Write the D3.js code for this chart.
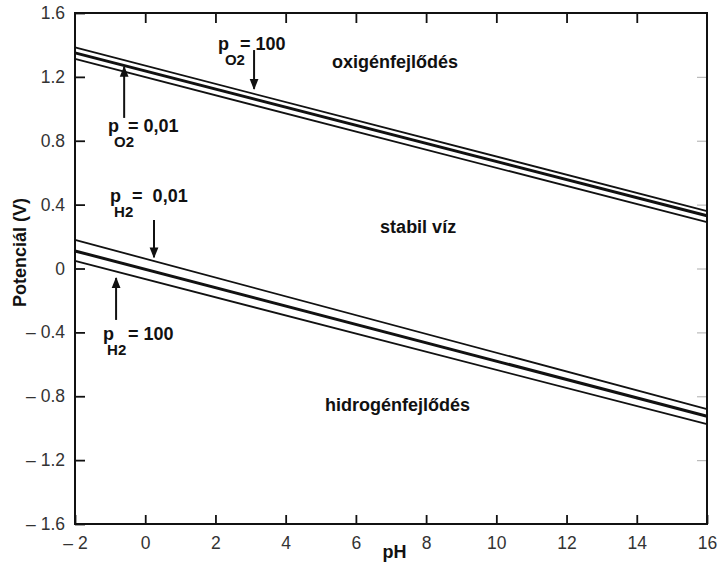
<!DOCTYPE html>
<html>
<head>
<meta charset="utf-8">
<script src="https://cdn.jsdelivr.net/npm/d3@7"></script>
<style>
  body { margin: 0; background: #fff; }
  svg { display: block; font-family: "Liberation Sans", Arial, Helvetica, sans-serif; }
  .tick text { fill: #333; font-size: 17.5px; }
  .note { font-weight: bold; font-size: 18px; fill: #111; }
</style>
</head>
<body>
<div class="visHolder"></div>
<script>
const w = 718, h = 565;
const margin = {top: 13, right: 11, bottom: 41, left: 75};

// pH range of the lines
const phEnds = [-2, 16];
// O2/H2O lines, pO2 = 100, 1, 0,01 (potential at pH -2 and pH 16)
const o2Left = [1.384, 1.350, 1.312];
const o2Right = [0.36, 0.33, 0.29];
// H2O/H2 lines, pH2 = 0,01, 1, 100
const h2Left = [0.179, 0.110, 0.047];
const h2Right = [-0.88, -0.925, -0.975];
const lineWidths = [1.8, 3, 1.8];

const xTicks = [-2, 0, 2, 4, 6, 8, 10, 12, 14, 16];
const yTicks = [-1.6, -1.2, -0.8, -0.4, 0, 0.4, 0.8, 1.2, 1.6];

const svg = d3.select('.visHolder')
  .append('svg')
  .attr('width', w)
  .attr('height', h);

const x = d3.scaleLinear().domain([-2, 16]).range([margin.left, w - margin.right]);
const y = d3.scaleLinear().domain([-1.6, 1.6]).range([h - margin.bottom, margin.top]);

const fmt = d => d < 0 ? '\u2013 ' + Math.abs(d).toFixed(Number.isInteger(d) ? 0 : 1)
                       : (d === 0 ? '0' : (Number.isInteger(d) ? d : d.toFixed(1)));

// axes with inward ticks
const axBottom = svg.append('g')
  .attr('transform', `translate(0,${h - margin.bottom})`)
  .call(d3.axisBottom(x).tickValues(xTicks).tickSizeInner(-9).tickSizeOuter(0).tickPadding(13).tickFormat(fmt));
const axLeft = svg.append('g')
  .attr('transform', `translate(${margin.left},0)`)
  .call(d3.axisLeft(y).tickValues(yTicks).tickSizeInner(-10).tickSizeOuter(0).tickPadding(10).tickFormat(fmt));
const axTop = svg.append('g')
  .attr('transform', `translate(0,${margin.top})`)
  .call(d3.axisTop(x).tickValues(xTicks.slice(1, -1)).tickSizeInner(-10).tickSizeOuter(0).tickFormat(''));
const axRight = svg.append('g')
  .attr('transform', `translate(${w - margin.right},0)`)
  .call(d3.axisRight(y).tickValues(yTicks.slice(1, -1)).tickSizeInner(-10).tickSizeOuter(0).tickFormat(''));

[axBottom, axLeft, axTop, axRight].forEach(g => {
  g.select('.domain').remove();
  g.selectAll('.tick line').attr('stroke', '#111').attr('stroke-width', 1.8);
});
axRight.selectAll('.tick line').attr('stroke', '#bbb').attr('stroke-width', 1.2);

// frame
svg.append('rect')
  .attr('x', x(-2)).attr('y', y(1.6))
  .attr('width', x(16) - x(-2)).attr('height', y(-1.6) - y(1.6))
  .attr('fill', 'none').attr('stroke', '#111').attr('stroke-width', 2);

// lines
const line = d3.line().x(d => x(d[0])).y(d => y(d[1]));
const drawSet = (lefts, rights) => {
  lefts.forEach((v, i) => {
    svg.append('path')
      .attr('d', line([[phEnds[0], v], [phEnds[1], rights[i]]]))
      .attr('fill', 'none')
      .attr('stroke', '#111')
      .attr('stroke-width', lineWidths[i]);
  });
};
drawSet(o2Left, o2Right);
drawSet(h2Left, h2Right);

// arrow marker
svg.append('defs').append('marker')
  .attr('id', 'head')
  .attr('viewBox', '0 0 10 10')
  .attr('refX', 9).attr('refY', 5)
  .attr('markerWidth', 5.5).attr('markerHeight', 5.5)
  .attr('markerUnits', 'strokeWidth')
  .attr('orient', 'auto')
  .append('path').attr('d', 'M0,1 L10,5 L0,9 Z').attr('fill', '#111');

const arrow = (px, e1, e2) => {
  svg.append('line')
    .attr('x1', x(px)).attr('y1', y(e1))
    .attr('x2', x(px)).attr('y2', y(e2))
    .attr('stroke', '#111').attr('stroke-width', 2)
    .attr('marker-end', 'url(#head)');
};

// p with subscript, then the value (one text element)
const pLabel = (ph, e, sub, rest, subDx, restDx) => {
  const x0 = x(ph), y0 = y(e);
  const t = svg.append('text').attr('class', 'note').attr('xml:space', 'preserve');
  t.append('tspan').attr('x', x0).attr('y', y0).text('p');
  t.append('tspan').attr('x', x0 + subDx).attr('y', y0 + 15).style('font-size', '15px').text(sub);
  t.append('tspan').attr('x', x0 + restDx).attr('y', y0).text(rest);
};

pLabel(2.07, 1.368, 'O2', '= 100', 7, 22);
arrow(3.10, 1.368, 1.125);
pLabel(-1.06, 0.855, 'O2', '= 0,01', 6, 20);
arrow(-0.6, 0.943, 1.262);
pLabel(-1.0, 0.417, 'H2', '=  0,01', 4, 22);
arrow(0.25, 0.304, 0.07);
pLabel(-1.2, -0.448, 'H2', '= 100', 4, 25);
arrow(-0.83, -0.322, -0.06);

svg.append('text').attr('class', 'note').attr('x', x(5.32)).attr('y', y(1.256)).text('oxigénfejlődés');
svg.append('text').attr('class', 'note').attr('x', x(6.69)).attr('y', y(0.222)).text('stabil víz');
svg.append('text').attr('class', 'note').attr('x', x(5.12)).attr('y', y(-0.892)).text('hidrogénfejlődés');

// axis titles
svg.append('text')
  .attr('class', 'note')
  .attr('text-anchor', 'middle')
  .attr('transform', `translate(26,${y(0.1)}) rotate(-90)`)
  .text('Potenciál (V)');
svg.append('text')
  .attr('class', 'note')
  .attr('text-anchor', 'middle')
  .attr('x', x(7.1)).attr('y', 558)
  .text('pH');
</script>
</body>
</html>
